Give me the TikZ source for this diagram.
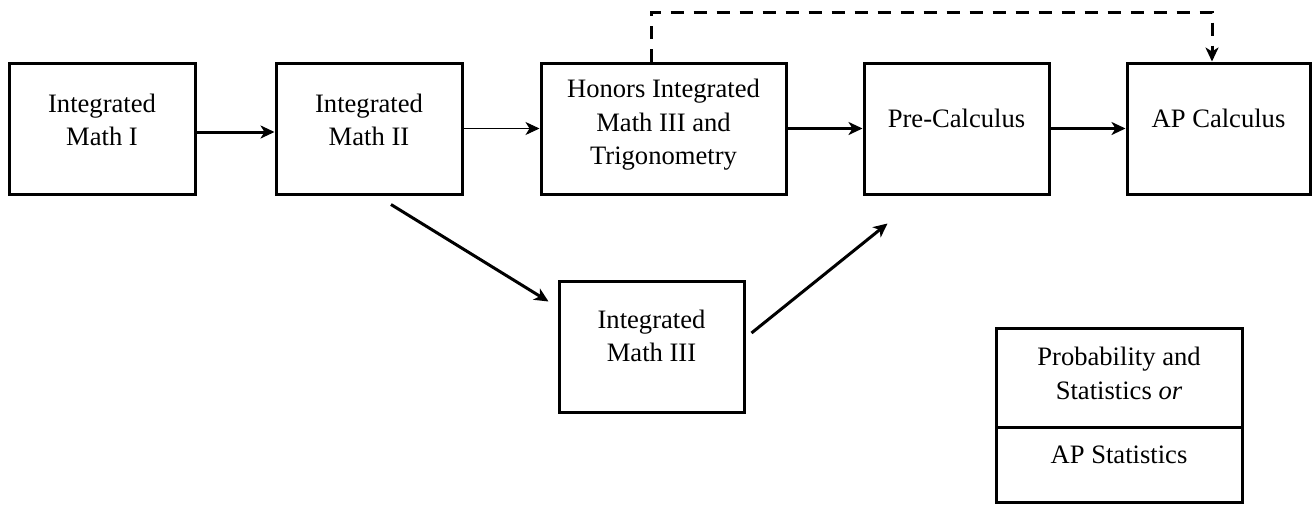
\documentclass[tikz,border=0pt]{standalone}
\usepackage{fontspec}
\setmainfont{Liberation Serif}
\usetikzlibrary{arrows.meta,positioning}

\tikzset{
  course/.style={draw=black, line width=1.5pt, minimum width=#1,
                 minimum height=65.5pt, inner sep=0pt},
  txt/.style={font=\fontsize{13.3}{16.75}\selectfont, align=center, inner sep=0pt},
  link/.style={line width=1.5pt, -{Stealth[length=7pt, width=6.5pt, inset=2pt]}},
  thinlink/.style={line width=0.5pt, -{Stealth[length=7pt, width=6.5pt, inset=2pt]}},
  dashlink/.style={link, dash pattern=on 6.5pt off 5pt},
}

\begin{document}
\begin{tikzpicture}[x=0.5pt, y=-0.5pt]
  \useasboundingbox (0,0) rectangle (1312,504);

  % top row
  \node[course=93pt, label={[txt, yshift=4.25pt]center:{Integrated\\Math I}}] (im1) at (102,128.5) {};
  \node[course=93pt, label={[txt, yshift=4.25pt]center:{Integrated\\Math II}}] (im2) at (369,128.5) {};
  \node[course=122.5pt, label={[txt, yshift=1.75pt]center:{Honors Integrated\\Math III and\\Trigonometry}}] (hon) at (663.5,128.5) {};
  \node[course=92.5pt, label={[txt, yshift=5.25pt]center:{Pre-Calculus}}] (pre) at (956.5,128.5) {};
  \node[course=91.5pt, label={[txt, yshift=5.25pt]center:{AP Calculus}}] (apc) at (1218.5,128.5) {};

  % lower path
  \node[course=92.5pt, label={[txt, yshift=5.25pt]center:{Integrated\\Math III}}] (im3) at (651.5,346.5) {};

  % statistics option
  \node[course=123pt, minimum height=49.5pt,
        label={[txt, yshift=2pt]center:{Probability and\\Statistics \textit{or}}}] (stA) at (1119,377.5) {};
  \node[course=123pt, minimum height=37.75pt,
        label={[txt, yshift=4.75pt]center:{AP Statistics}}] (stB) at (1119,464.75) {};

  % connectors
  \draw[link] ([yshift=-1.75pt]im1.east) -- ([yshift=-1.75pt]im2.west);
  \draw[thinlink] (im2) -- (hon);
  \draw[link] (hon) -- (pre);
  \draw[link] (pre) -- (apc);
  \draw[link] ([shift={(22,9)}]im2.south) -- ([shift={(-9,22)}]im3.north west);
  \draw[link] ([shift={(6,-13.5)}]im3.east) -- ([shift={(25,28)}]pre.south west);

  \coordinate (dl) at (651,12);
  \coordinate (dr) at (1212,12);
  \draw[dashlink] (hon.north -| dl) -- (dl) -- (dr) -- (apc.north -| dr);
\end{tikzpicture}
\end{document}
